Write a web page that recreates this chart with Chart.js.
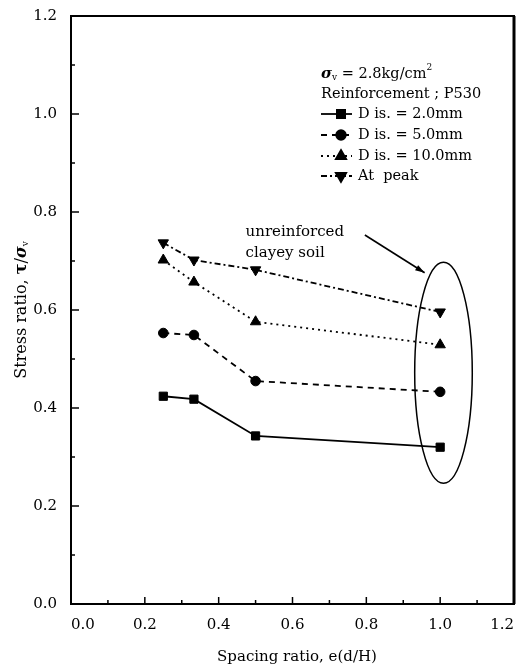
<!DOCTYPE html>
<html>
<head>
<meta charset="utf-8">
<script src="https://cdn.jsdelivr.net/npm/chart.js@4.4.1/dist/chart.umd.min.js"></script>
<style>
  html, body { margin: 0; padding: 0; background: #fff; }
</style>
</head>
<body>
<canvas id="stressChart" width="521" height="671"></canvas>
<script>
// spacing ratio e(d/H) and stress ratio per displacement level
const spacing = [0.25, 0.333, 0.5, 1.0];
const dis2mm = [0.424, 0.418, 0.343, 0.320];
const dis5mm = [0.553, 0.549, 0.455, 0.433];
const dis10mm = [0.702, 0.657, 0.576, 0.529];
const atPeak = [0.737, 0.702, 0.682, 0.596];
const axisTicks = [0, 0.2, 0.4, 0.6, 0.8, 1.0, 1.2];

const serif = '"DejaVu Serif", serif';
const pts = arr => spacing.map((x, i) => ({ x: x, y: arr[i] }));

function series(label, arr, style, dash, radius, rotation) {
  return {
    label: label,
    data: pts(arr),
    borderColor: '#000',
    backgroundColor: '#000',
    borderWidth: 1.8,
    borderDash: dash,
    pointStyle: style,
    pointRotation: rotation || 0,
    pointRadius: radius,
    pointBorderWidth: 1,
    pointBorderColor: '#000',
    pointBackgroundColor: '#000',
    tension: 0,
    fill: false
  };
}

// draw a row of text pieces with different fonts / offsets
function drawRuns(ctx, x, y, runs) {
  runs.forEach(r => {
    ctx.font = r.font;
    ctx.fillText(r.t, x, y + (r.dy || 0));
    x += ctx.measureText(r.t).width;
  });
}
function runsWidth(ctx, runs) {
  let w = 0;
  runs.forEach(r => { ctx.font = r.font; w += ctx.measureText(r.t).width; });
  return w;
}

const decorations = {
  id: 'decorations',
  afterDraw(chart) {
    const ctx = chart.ctx;
    const a = chart.chartArea;
    const xs = chart.scales.x, ys = chart.scales.y;
    ctx.save();
    ctx.strokeStyle = '#000';
    ctx.fillStyle = '#000';

    // frame
    ctx.lineWidth = 2;
    ctx.strokeRect(a.left, a.top, a.right - a.left, a.bottom - a.top);
    ctx.lineWidth = 3;
    ctx.beginPath();
    ctx.moveTo(a.right, a.top);
    ctx.lineTo(a.right, a.bottom);
    ctx.stroke();

    // inward ticks
    ctx.lineWidth = 1.5;
    for (let i = 0; i <= 12; i++) {
      const v = i / 10;
      const major = i % 2 === 0;
      const px = xs.getPixelForValue(v);
      ctx.beginPath();
      ctx.moveTo(px, a.bottom);
      ctx.lineTo(px, a.bottom - (major ? 7 : 4));
      ctx.stroke();
      const py = ys.getPixelForValue(v);
      ctx.beginPath();
      ctx.moveTo(a.left, py);
      ctx.lineTo(a.left + (major ? 8 : 4), py);
      ctx.stroke();
    }

    // ellipse around unreinforced points
    ctx.lineWidth = 1.5;
    const cx = xs.getPixelForValue(1.009), cy = ys.getPixelForValue(0.472);
    const rx = xs.getPixelForValue(1.009 + 0.078) - cx;
    const ry = cy - ys.getPixelForValue(0.472 + 0.2255);
    ctx.beginPath();
    ctx.ellipse(cx, cy, rx, ry, 0, 0, Math.PI * 2);
    ctx.stroke();

    // arrow
    const x0 = xs.getPixelForValue(0.796), y0 = ys.getPixelForValue(0.753);
    const x1 = xs.getPixelForValue(0.958), y1 = ys.getPixelForValue(0.676);
    ctx.lineWidth = 1.6;
    ctx.beginPath();
    ctx.moveTo(x0, y0);
    ctx.lineTo(x1, y1);
    ctx.stroke();
    const ang = Math.atan2(y1 - y0, x1 - x0);
    ctx.beginPath();
    ctx.moveTo(x1, y1);
    ctx.lineTo(x1 - 10 * Math.cos(ang - 0.3), y1 - 10 * Math.sin(ang - 0.3));
    ctx.lineTo(x1 - 10 * Math.cos(ang + 0.3), y1 - 10 * Math.sin(ang + 0.3));
    ctx.closePath();
    ctx.fill();

    // annotation text
    ctx.textBaseline = 'middle';
    ctx.textAlign = 'left';
    ctx.font = '15px ' + serif;
    ctx.fillText('unreinforced', xs.getPixelForValue(0.473), ys.getPixelForValue(0.759));
    ctx.fillText('clayey soil', xs.getPixelForValue(0.473), ys.getPixelForValue(0.716));

    // legend block
    const base = '14.5px ' + serif;
    drawRuns(ctx, 321, 74, [
      { t: 'σ', font: 'bold italic 15px ' + serif },
      { t: 'v', font: '9px ' + serif, dy: 4 },
      { t: ' = 2.8kg/cm', font: base },
      { t: '2', font: '9px ' + serif, dy: -6 }
    ]);
    ctx.font = base;
    ctx.fillText('Reinforcement ; P530', 321, 94);
    const rows = [
      { y: 114, text: 'D is. = 2.0mm', ds: 0 },
      { y: 135, text: 'D is. = 5.0mm', ds: 1 },
      { y: 156, text: 'D is. = 10.0mm', ds: 2 },
      { y: 176, text: 'At  peak', ds: 3 }
    ];
    rows.forEach(r => {
      const ds = chart.data.datasets[r.ds];
      ctx.lineWidth = 1.8;
      ctx.setLineDash(ds.borderDash || []);
      ctx.beginPath();
      ctx.moveTo(321, r.y);
      ctx.lineTo(352, r.y);
      ctx.stroke();
      ctx.setLineDash([]);
      Chart.helpers.drawPoint(ctx, {
        pointStyle: ds.pointStyle,
        rotation: ds.pointRotation,
        radius: ds.pointRadius,
        borderWidth: 1
      }, 341, r.y);
      ctx.fill();
      ctx.font = base;
      ctx.fillText(r.text, 358, r.y);
    });

    // axis titles
    ctx.textAlign = 'center';
    ctx.font = '15px ' + serif;
    ctx.fillText('Spacing ratio, e(d/H)', 297, 657);

    const titleRuns = [
      { t: 'Stress ratio, ', font: '16px ' + serif },
      { t: 'τ', font: 'bold 16px ' + serif },
      { t: '/', font: '16px ' + serif },
      { t: 'σ', font: 'bold italic 16px ' + serif },
      { t: 'v', font: '9px ' + serif, dy: 4 }
    ];
    ctx.translate(22, 310);
    ctx.rotate(-Math.PI / 2);
    ctx.textAlign = 'left';
    drawRuns(ctx, -runsWidth(ctx, titleRuns) / 2, 0, titleRuns);
    ctx.restore();
  }
};

new Chart(document.getElementById('stressChart').getContext('2d'), {
  type: 'line',
  data: {
    datasets: [
      series('Dis. = 2.0mm', dis2mm, 'rect', [], 5.8),
      series('Dis. = 5.0mm', dis5mm, 'circle', [6, 5], 4.8),
      series('Dis. = 10.0mm', dis10mm, 'triangle', [2, 4], 6),
      series('At peak', atPeak, 'triangle', [6, 3, 2, 3], 6, 180)
    ]
  },
  options: {
    responsive: false,
    animation: false,
    layout: { padding: { top: 16, right: 4, left: 0, bottom: 0 } },
    scales: {
      x: {
        type: 'linear',
        min: 0,
        max: 1.2,
        afterBuildTicks: s => { s.ticks = axisTicks.map(v => ({ value: v })); },
        afterFit: s => { s.height = 67; s.paddingLeft = 0; s.paddingRight = 0; },
        ticks: {
          align: 'inner',
          padding: 4,
          color: '#000',
          font: { family: serif, size: 15 },
          callback: v => v.toFixed(1)
        },
        grid: { display: false },
        border: { display: false }
      },
      y: {
        min: 0,
        max: 1.2,
        afterBuildTicks: s => { s.ticks = axisTicks.map(v => ({ value: v })); },
        afterFit: s => { s.width = 71; s.paddingTop = 0; s.paddingBottom = 0; },
        ticks: {
          padding: 6,
          color: '#000',
          font: { family: serif, size: 15 },
          callback: v => v.toFixed(1)
        },
        grid: { display: false },
        border: { display: false }
      }
    },
    plugins: {
      legend: { display: false },
      tooltip: { enabled: false }
    }
  },
  plugins: [decorations]
});
</script>
</body>
</html>
